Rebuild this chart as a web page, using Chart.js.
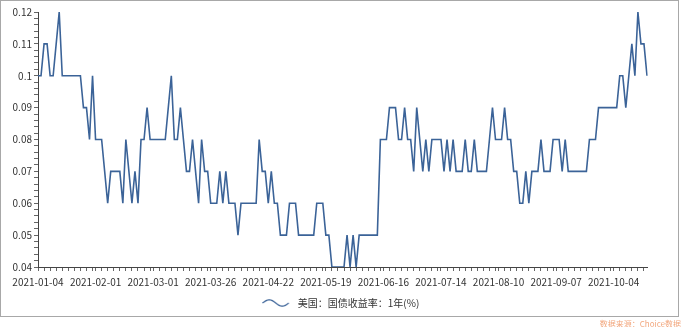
<!DOCTYPE html>
<html>
<head>
<meta charset="utf-8">
<script src="https://cdn.jsdelivr.net/npm/chart.js@4"></script>
<style>
  body { margin: 0; background: #fff; }
  #wrap { position: relative; width: 681px; height: 327px; overflow: hidden; }
  #frame { position: absolute; left: 0; top: 0; width: 677px; height: 315px; border: 1px solid #a8a8a8; }
  #canvas { position: absolute; left: 0; top: 0; }
  #src { position: absolute; right: 0; top: 318px; font: 8px "Noto Sans CJK SC", sans-serif; color: #f2a77e; white-space: nowrap; }
</style>
</head>
<body>
<div id="wrap">
  <div id="frame"></div>
  <canvas id="canvas" width="681" height="327"></canvas>
  <div id="src">数据来源：Choice数据</div>
</div>
<script>
// 交易日（美国债券市场）
var dates = [
  '2021-01-04','2021-01-05','2021-01-06','2021-01-07','2021-01-08','2021-01-11','2021-01-12','2021-01-13','2021-01-14','2021-01-15',
  '2021-01-19','2021-01-20','2021-01-21','2021-01-22','2021-01-25','2021-01-26','2021-01-27','2021-01-28','2021-01-29',
  '2021-02-01','2021-02-02','2021-02-03','2021-02-04','2021-02-05','2021-02-08','2021-02-09','2021-02-10','2021-02-11','2021-02-12',
  '2021-02-16','2021-02-17','2021-02-18','2021-02-19','2021-02-22','2021-02-23','2021-02-24','2021-02-25','2021-02-26',
  '2021-03-01','2021-03-02','2021-03-03','2021-03-04','2021-03-05','2021-03-08','2021-03-09','2021-03-10','2021-03-11','2021-03-12',
  '2021-03-15','2021-03-16','2021-03-17','2021-03-18','2021-03-19','2021-03-22','2021-03-23','2021-03-24','2021-03-25','2021-03-26',
  '2021-03-29','2021-03-30','2021-03-31',
  '2021-04-01','2021-04-02','2021-04-05','2021-04-06','2021-04-07','2021-04-08','2021-04-09','2021-04-12','2021-04-13','2021-04-14',
  '2021-04-15','2021-04-16','2021-04-19','2021-04-20','2021-04-21','2021-04-22','2021-04-23','2021-04-26','2021-04-27','2021-04-28',
  '2021-04-29','2021-04-30',
  '2021-05-03','2021-05-04','2021-05-05','2021-05-06','2021-05-07','2021-05-10','2021-05-11','2021-05-12','2021-05-13','2021-05-14',
  '2021-05-17','2021-05-18','2021-05-19','2021-05-20','2021-05-21','2021-05-24','2021-05-25','2021-05-26','2021-05-27','2021-05-28',
  '2021-06-01','2021-06-02','2021-06-03','2021-06-04','2021-06-07','2021-06-08','2021-06-09','2021-06-10','2021-06-11','2021-06-14',
  '2021-06-15','2021-06-16','2021-06-17','2021-06-18','2021-06-21','2021-06-22','2021-06-23','2021-06-24','2021-06-25','2021-06-28',
  '2021-06-29','2021-06-30',
  '2021-07-01','2021-07-02','2021-07-06','2021-07-07','2021-07-08','2021-07-09','2021-07-12','2021-07-13','2021-07-14','2021-07-15',
  '2021-07-16','2021-07-19','2021-07-20','2021-07-21','2021-07-22','2021-07-23','2021-07-26','2021-07-27','2021-07-28','2021-07-29',
  '2021-07-30',
  '2021-08-02','2021-08-03','2021-08-04','2021-08-05','2021-08-06','2021-08-09','2021-08-10','2021-08-11','2021-08-12','2021-08-13',
  '2021-08-16','2021-08-17','2021-08-18','2021-08-19','2021-08-20','2021-08-23','2021-08-24','2021-08-25','2021-08-26','2021-08-27',
  '2021-08-30','2021-08-31',
  '2021-09-01','2021-09-02','2021-09-03','2021-09-07','2021-09-08','2021-09-09','2021-09-10','2021-09-13','2021-09-14','2021-09-15',
  '2021-09-16','2021-09-17','2021-09-20','2021-09-21','2021-09-22','2021-09-23','2021-09-24','2021-09-27','2021-09-28','2021-09-29',
  '2021-09-30',
  '2021-10-01','2021-10-04','2021-10-05','2021-10-06','2021-10-07','2021-10-08','2021-10-12','2021-10-13','2021-10-14','2021-10-15',
  '2021-10-18','2021-10-19','2021-10-20'
];

// 美国：国债收益率：1年(%)
var yields = [
  0.10,0.10,0.11,0.11,0.10,0.10,0.11,0.12,0.10,0.10,0.10,0.10,0.10,0.10,0.10,0.09,0.09,0.08,0.10,
  0.08,0.08,0.08,0.07,0.06,0.07,0.07,0.07,0.07,0.06,0.08,0.07,0.06,0.07,0.06,0.08,0.08,0.09,0.08,
  0.08,0.08,0.08,0.08,0.08,0.09,0.10,0.08,0.08,0.09,0.08,0.07,0.07,0.08,0.07,0.06,0.08,0.07,0.07,0.06,0.06,0.06,0.07,
  0.06,0.07,0.06,0.06,0.06,0.05,0.06,0.06,0.06,0.06,0.06,0.06,0.08,0.07,0.07,0.06,0.07,0.06,0.06,0.05,0.05,0.05,
  0.06,0.06,0.06,0.05,0.05,0.05,0.05,0.05,0.05,0.06,0.06,0.06,0.05,0.05,0.04,0.04,0.04,0.04,0.04,0.05,
  0.04,0.05,0.04,0.05,0.05,0.05,0.05,0.05,0.05,0.05,0.08,0.08,0.08,0.09,0.09,0.09,0.08,0.08,0.09,0.08,0.08,0.07,
  0.09,0.08,0.07,0.08,0.07,0.08,0.08,0.08,0.08,0.07,0.08,0.07,0.08,0.07,0.07,0.07,0.08,0.07,0.07,0.08,0.07,
  0.07,0.07,0.07,0.08,0.09,0.08,0.08,0.08,0.09,0.08,0.08,0.07,0.07,0.06,0.06,0.07,0.06,0.07,0.07,0.07,0.08,0.07,
  0.07,0.07,0.08,0.08,0.08,0.07,0.08,0.07,0.07,0.07,0.07,0.07,0.07,0.07,0.08,0.08,0.08,0.09,0.09,0.09,0.09,
  0.09,0.09,0.09,0.10,0.10,0.09,0.10,0.11,0.10,0.12,0.11,0.11,0.10
];

var yMajor = [0.04, 0.05, 0.06, 0.07, 0.08, 0.09, 0.1, 0.11, 0.12];
var labelEvery = 19; // 每19个交易日一个日期标签
var lineColor = '#3b6398';

// 图例的波浪线
function waveIcon() {
  var c = document.createElement('canvas');
  c.width = 30; c.height = 10;
  var g = c.getContext('2d');
  g.strokeStyle = lineColor;
  g.lineWidth = 1.2;
  g.beginPath();
  for (var x = 0; x <= 26; x++) {
    var y = 5 - 3.2 * Math.sin(x / 26 * Math.PI * 2);
    if (x === 0) g.moveTo(x + 0.5, y); else g.lineTo(x + 0.5, y);
  }
  g.stroke();
  return c;
}

// 图例在整个画布宽度内居中
var legendCenter = {
  id: 'legendCenter',
  afterLayout: function (chart) {
    var lg = chart.legend;
    lg.left = 0;
    lg.right = chart.width;
    lg.width = chart.width;
  }
};

Chart.defaults.font.family = '"Noto Sans CJK SC", "Noto Sans", sans-serif';
Chart.defaults.font.size = 10;
Chart.defaults.color = '#333';

var ctx = document.getElementById('canvas').getContext('2d');
var myChart = new Chart(ctx, {
  type: 'line',
  data: {
    labels: dates,
    datasets: [{
      label: '美国：国债收益率：1年(%)',
      data: yields,
      borderColor: lineColor,
      backgroundColor: lineColor,
      borderWidth: 1.6,
      pointRadius: 0,
      tension: 0
    }]
  },
  plugins: [legendCenter],
  options: {
    responsive: false,
    animation: false,
    layout: { padding: { top: 12, right: 34, bottom: 9, left: 0 } },
    plugins: {
      tooltip: { enabled: false },
      legend: {
        position: 'bottom',
        labels: {
          usePointStyle: true,
          pointStyle: waveIcon(),
          pointStyleWidth: 31,
          padding: 5,
          color: '#333',
          font: { size: 10 }
        }
      }
    },
    scales: {
      x: {
        offset: false,
        border: { color: '#444', width: 1 },
        grid: {
          drawOnChartArea: false,
          drawTicks: true,
          tickLength: 4,
          tickColor: function (c) {
            return (c.index % labelEvery) % 2 === 0 ? '#666' : 'rgba(0,0,0,0)';
          }
        },
        ticks: {
          autoSkip: false,
          maxRotation: 0,
          minRotation: 0,
          padding: 5,
          color: '#333',
          callback: function (v, i) {
            return i % labelEvery === 0 ? dates[i] : '';
          }
        }
      },
      y: {
        min: 0.04,
        max: 0.12,
        border: { color: '#444', width: 1 },
        grid: { drawOnChartArea: false, drawTicks: true, tickLength: 4, tickColor: '#666' },
        afterFit: function (s) { s.width = 38; },
        afterBuildTicks: function (s) {
          var t = [];
          for (var k = 0; k < yMajor.length; k++) {
            t.push({ value: yMajor[k] });
            if (k < yMajor.length - 1) {
              for (var m = 1; m < 5; m++) t.push({ value: yMajor[k] + (yMajor[k + 1] - yMajor[k]) * m / 5 });
            }
          }
          s.ticks = t;
        },
        ticks: {
          autoSkip: false,
          padding: 2,
          color: '#333',
          callback: function (v) {
            for (var k = 0; k < yMajor.length; k++) {
              if (Math.abs(v - yMajor[k]) < 1e-9) return String(yMajor[k]);
            }
            return '';
          }
        }
      }
    }
  }
});
</script>
</body>
</html>
